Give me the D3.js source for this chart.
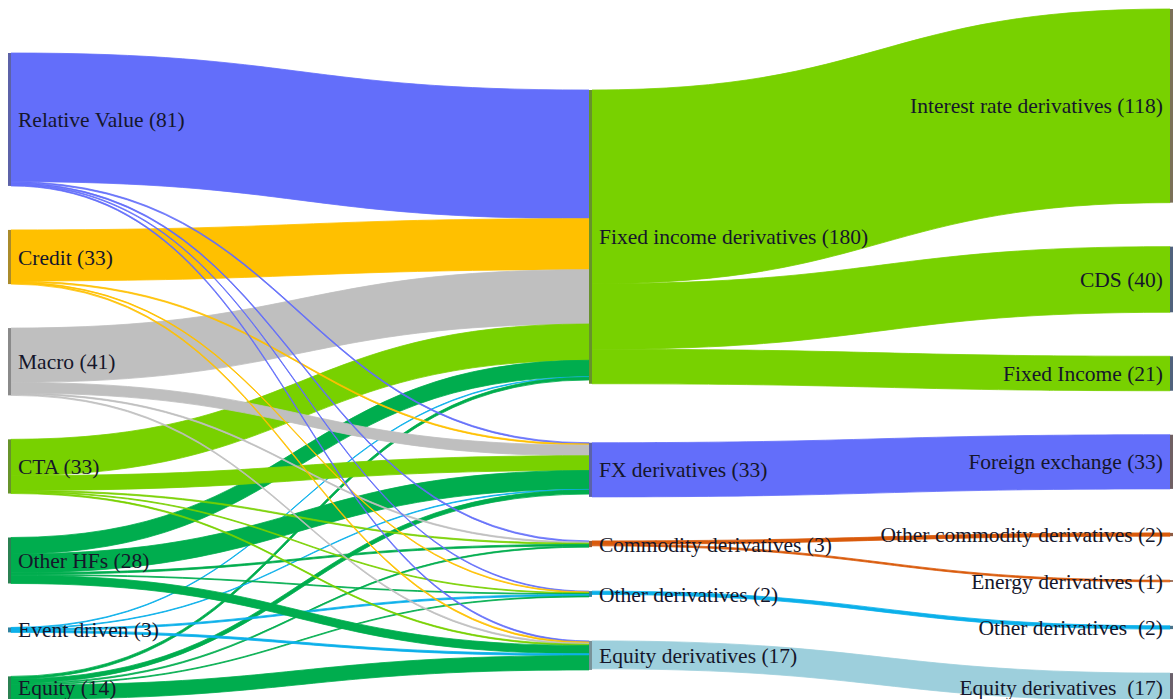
<!DOCTYPE html>
<html lang="en">
<head>
    <meta charset="UTF-8">
    <title>Hedge fund derivatives Sankey</title>
    <script src="https://d3js.org/d3.v7.min.js"></script>
    <style>
        body { margin: 0; background: #fff; }
        .label {
            font-family: "Liberation Serif", "Times New Roman", serif;
            font-size: 21.5px;
            fill: #15162a;
            white-space: pre;
        }
        .node { stroke: none; }
    </style>
</head>
<body>
    <svg width="1176" height="699"></svg>
    <script>
        // ---- data ----
        const hedgeFunds = ["Relative Value", "Credit", "Macro", "CTA", "Other HFs", "Event driven", "Equity"];
        const hedgeFundTotals = [81, 33, 41, 33, 28, 3, 14];
        const hedgeFundColors = ["#636efa", "#ffc000", "#bfbfbf", "#78d100", "#00ad4e", "#0bb0ea", "#00ad4e"];

        const derivClasses = ["Fixed income derivatives", "FX derivatives", "Commodity derivatives", "Other derivatives", "Equity derivatives"];
        const derivTotals = [180, 33, 3, 2, 17];
        const derivColors = ["#78d100", "#636efa", "#d95a0b", "#0bb0ea", "#9dcfdc"];

        const products = ["Interest rate derivatives", "CDS", "Fixed Income", "Foreign exchange",
                          "Other commodity derivatives", "Energy derivatives", "Other derivatives ", "Equity derivatives "];
        const productTotals = [118, 40, 21, 33, 2, 1, 2, 17];
        const productColors = ["#a08a5a", "#4a6fa5", "#4a6fa5", "#8a6a70", "#c86030", "#c86030", "#3a90c0", "#806a80"];

        // rows: hedge fund, columns: derivative class
        const hfToDeriv = [
            [78.4, 0.7, 0.7, 0.5, 0.7],
            [31.1, 0.7, 0,   0.5, 0.7],
            [33.1, 6.5, 0.7, 0,   0.7],
            [22.1, 9,   0.7, 0.5, 0.7],
            [10,   11.5, 1,  0.5, 5],
            [0.4,  0.4, 0,   1,   1.2],
            [1.6,  2.5, 0.7, 0.5, 8.7]
        ];
        // rows: derivative class, columns: product
        const derivToProduct = [
            [118, 40, 21, 0, 0, 0, 0, 0],
            [0, 0, 0, 33, 0, 0, 0, 0],
            [0, 0, 0, 0, 2, 1, 0, 0],
            [0, 0, 0, 0, 0, 0, 2, 0],
            [0, 0, 0, 0, 0, 0, 0, 17]
        ];

        // ---- layout settings ----
        const width = 1176, height = 699;
        const nodeWidth = 3;
        const nodeGap = 44;
        const columnTop = [53, 90, 9];
        const extraGapAfter = { "Fixed income derivatives": 15 };

        const svg = d3.select("svg").attr("width", width).attr("height", height);

        const x = d3.scalePoint().domain([0, 1, 2]).range([8, width - 6]);
        const h = d3.scaleLinear().domain([0, 234]).range([0, 384]);

        // build nodes
        const nodes = [];
        hedgeFunds.forEach((n, i) => nodes.push({ name: n, total: hedgeFundTotals[i], color: hedgeFundColors[i], col: 0 }));
        derivClasses.forEach((n, i) => nodes.push({ name: n, total: derivTotals[i], color: derivColors[i], col: 1 }));
        products.forEach((n, i) => nodes.push({ name: n, total: productTotals[i], color: productColors[i], col: 2 }));
        nodes.forEach(n => { n.sourceLinks = []; n.targetLinks = []; });

        const hfNodes = nodes.filter(n => n.col === 0);
        const dNodes = nodes.filter(n => n.col === 1);
        const pNodes = nodes.filter(n => n.col === 2);

        // build links
        const links = [];
        hfToDeriv.forEach((row, i) => row.forEach((v, j) => {
            if (v > 0) links.push({ source: hfNodes[i], target: dNodes[j], value: v, color: hedgeFundColors[i] });
        }));
        derivToProduct.forEach((row, i) => row.forEach((v, j) => {
            if (v > 0) links.push({ source: dNodes[i], target: pNodes[j], value: v, color: derivColors[i] });
        }));
        links.forEach(l => { l.source.sourceLinks.push(l); l.target.targetLinks.push(l); });

        // node sizes and positions
        nodes.forEach(n => {
            n.value = Math.max(d3.sum(n.sourceLinks, l => l.value), d3.sum(n.targetLinks, l => l.value));
            n.x0 = x(n.col);
            n.x1 = n.x0 + nodeWidth;
        });
        [hfNodes, dNodes, pNodes].forEach((col, c) => {
            let y = columnTop[c];
            col.forEach(n => {
                n.y0 = y;
                n.y1 = y + h(n.value);
                y = n.y1 + nodeGap + (extraGapAfter[n.name] || 0);
            });
        });

        // link offsets inside nodes
        nodes.forEach(n => {
            let sy = n.y0;
            n.sourceLinks.sort((a, b) => a.target.y0 - b.target.y0).forEach(l => {
                l.sy0 = sy; l.sy1 = sy + h(l.value); sy = l.sy1;
            });
            let ty = n.y0;
            n.targetLinks.sort((a, b) => a.source.y0 - b.source.y0).forEach(l => {
                l.ty0 = ty; l.ty1 = ty + h(l.value); ty = l.ty1;
            });
        });

        function ribbon(l) {
            const x0 = l.source.x1, x1 = l.target.x0, xm = (x0 + x1) / 2;
            const p = d3.path();
            p.moveTo(x0, l.sy0);
            p.bezierCurveTo(xm, l.sy0, xm, l.ty0, x1, l.ty0);
            p.lineTo(x1, l.ty1);
            p.bezierCurveTo(xm, l.ty1, xm, l.sy1, x0, l.sy1);
            p.closePath();
            return p.toString();
        }

        // draw links grouped by target so the thin ones end up on top
        const ordered = links.slice().sort((a, b) =>
            (nodes.indexOf(a.target) - nodes.indexOf(b.target)) || (nodes.indexOf(a.source) - nodes.indexOf(b.source)));

        svg.append("g")
            .selectAll("path")
            .data(ordered)
            .join("path")
            .attr("d", ribbon)
            .attr("fill", d => d.color)
            .attr("stroke", d => d.color)
            .attr("stroke-width", 0.8)
            .attr("stroke-linejoin", "round");

        svg.append("g")
            .selectAll("rect")
            .data(nodes)
            .join("rect")
            .attr("class", "node")
            .attr("x", d => d.x0)
            .attr("y", d => d.y0)
            .attr("width", nodeWidth)
            .attr("height", d => Math.max(1, d.y1 - d.y0))
            .attr("fill", d => d3.interpolateRgb(d.color, "#555")(0.5));

        svg.append("g")
            .selectAll("text")
            .data(nodes)
            .join("text")
            .attr("class", "label")
            .attr("x", d => d.col === 2 ? d.x0 - 7 : d.x1 + 7)
            .attr("y", d => (d.y0 + d.y1) / 2)
            .attr("dy", "0.35em")
            .attr("text-anchor", d => d.col === 2 ? "end" : "start")
            .text(d => d.name + " (" + d.total + ")");
    </script>
</body>
</html>
